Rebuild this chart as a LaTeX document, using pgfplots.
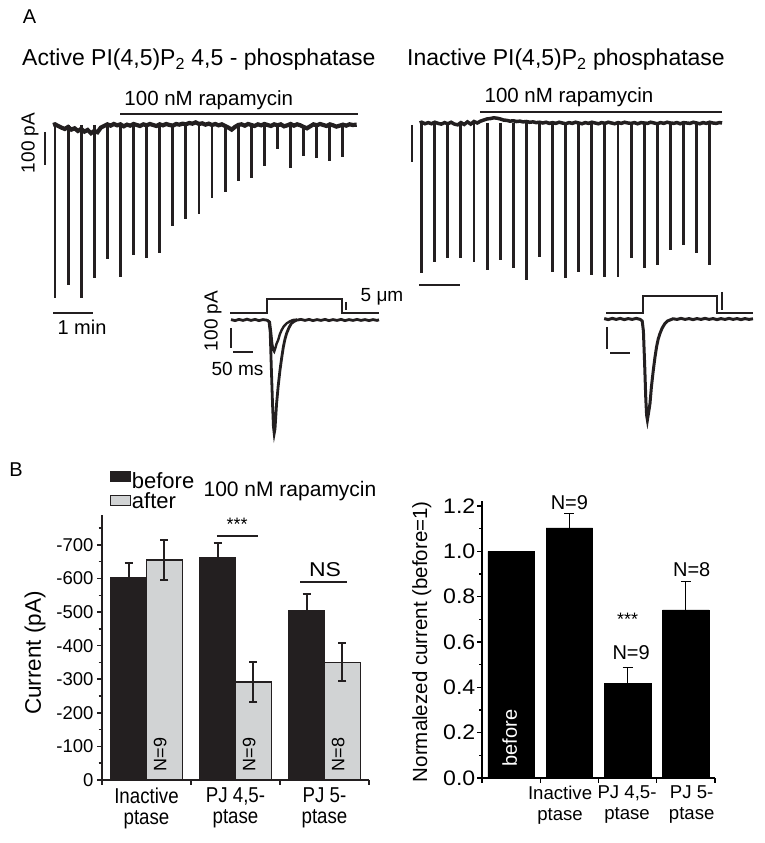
\documentclass[border=0pt]{standalone}
\usepackage{fontspec}
\setmainfont{Liberation Sans}
\usepackage{pgfplots}
\usepackage{pgfplotstable}
\pgfplotsset{compat=1.18}
\definecolor{ink}{HTML}{231F20}
\definecolor{bargray}{HTML}{D1D3D4}
\newcommand{\fs}[1]{\fontsize{#1}{#1}\selectfont}

% ---------- Panel A: active phosphatase, whole-cell current (pA) vs time (s)
\pgfplotstableread{
t I
-3 0
0 2
5 -3
10 -8
15 -12
20 -6
25 -14
30 -10
35 -18
40 -12
45 -20
50 -15
55 -25
60 -18
65 -22
70 -8
75 -3
80 2
85 -2
90 3
95 -1
100 2
105 -4
110 1
115 -2
120 3
125 0
130 -3
135 2
140 -1
145 3
150 0
155 -3
160 2
165 -1
170 3
175 0
180 -2
185 3
190 1
195 4
200 2
205 6
210 4
215 8
220 3
225 5
230 1
235 4
240 0
245 3
250 -1
255 2
260 -3
265 -8
270 -14
275 -6
280 0
285 2
290 -2
295 3
300 0
305 -3
310 2
315 -1
320 3
325 0
330 -3
335 2
340 -1
345 2
350 -4
355 -1
360 3
365 -2
370 2
375 -1
380 -6
385 -10
390 -4
395 2
400 -1
405 3
410 0
415 -3
420 2
425 -1
430 -5
435 -2
440 1
445 -2
450 2
455 0
461 1
}\baseleft
\pgfplotstableread{
t A
0 -523
20 -485
40 -525
60 -463
80 -406
100 -462
120 -394
140 -402
160 -387
180 -306
200 -286
220 -270
240 -220
260 -204
280 -170
300 -160
320 -124
340 -73
360 -131
380 -93
400 -101
420 -109
440 -96
}\spikesleft

% ---------- Panel A: inactive phosphatase
\pgfplotstableread{
t I
-3 0
0 2
5 -2
10 1
15 -2
20 2
25 -1
30 -3
35 1
40 -2
45 2
50 -3
55 -5
60 1
65 -4
70 3
75 -3
80 4
85 0
90 5
95 8
100 11
105 12
110 14
115 13
120 11
125 8
130 7
135 5
140 6
145 4
150 5
155 3
160 4
165 2
170 3
175 1
180 2
185 0
190 2
195 -1
200 1
205 -1
210 2
215 0
220 -2
225 1
230 -1
235 2
240 0
245 -2
250 1
255 -1
260 2
265 0
270 -2
275 1
280 -1
285 2
290 0
295 -2
300 1
305 -1
310 2
315 0
320 -1
325 1
330 -2
335 1
340 0
345 -1
350 2
355 0
360 -2
365 1
370 -1
375 2
380 0
385 -1
390 1
395 -2
400 1
405 0
410 -1
415 2
420 0
425 -2
430 1
435 -1
440 2
445 0
450 -1
455 1
459 0
}\baseright
\pgfplotstableread{
t A
0 -405
20 -376
40 -365
60 -365
80 -376
100 -397
120 -370
140 -392
160 -424
180 -362
200 -403
220 -419
240 -403
260 -411
280 -416
300 -416
320 -365
340 -392
360 -384
380 -343
400 -330
420 -351
440 -384
}\spikesright

% ---------- Insets: current (pA) vs time (ms)
\pgfplotstableread{
t I
-5 2
5 -3
15 3
25 -2
35 4
45 -2
55 3
65 -3
75 2
85 -1
90 -8
93 -60
96 -250
99 -430
101 -530
103 -567
105 -545
107 -480
109 -417
113 -330
117.5 -250
122 -185
126 -133
130 -95
134 -67
140 -38
146 -17
152 -8
159 -1
170 3
180 -2
190 3
200 -3
210 2
220 -2
230 3
240 -3
250 2
260 -2
270 3
280 -3
290 2
300 -2
310 3
320 -2
330 2
340 -3
350 2
360 -2
365 1
}\insetLbig
\pgfplotstableread{
t I
85 0
92 -10
95 -60
98 -120
101 -152
103 -158
106 -140
109 -118
113 -100
117 -72
121.7 -50
127 -32
134 -17
142 -7
150 0
160 2
}\insetLsmall
\pgfplotstableread{
t S
-7.5 35
85 35
85 105
272.5 105
272.5 35
365 35
}\stepL
\pgfplotstableread{
t I
-2 2
8 -3
18 3
28 -2
38 3
48 -3
58 2
68 -2
78 3
88 -2
93 -10
96 -60
99 -220
102 -400
104 -480
106 -505
108 -480
110 -455
112.5 -422
116 -340
120.8 -255
125 -190
129 -138
133 -100
137.5 -72
143 -45
150 -22
156 -10
162.5 -5
170 1
180 -2
190 3
200 -2
210 2
220 -3
230 2
240 -2
250 3
260 -2
270 2
280 -3
290 2
300 -2
310 3
320 -2
330 2
340 -3
350 2
360 -2
370 1
}\insetR
\pgfplotstableread{
t S
2.5 30
95 30
95 115
280 115
280 30
370 30
}\stepR

% ---------- Panel B
\pgfplotstableread{
x mean err
0.8 -603 42
1.8 -661 45
2.8 -504 49
}\beforeT
\pgfplotstableread{
x mean err
1.2 -655 59
2.2 -292 60
3.2 -351 56
}\afterT
\pgfplotstableread{
x val err
1 1.000 0
2 1.103 0.065
3 0.419 0.070
4 0.741 0.125
}\normT

\pgfplotsset{trace/.style={scale only axis, hide axis, clip=false}}

\begin{document}
\begin{tikzpicture}
\useasboundingbox (0pt,0pt) rectangle (764pt,843pt);

% ===== Panel A titles
\node[font=\fs{20}] at (29.5pt,826pt) {A};
\node[font=\fs{23}, anchor=west, inner sep=0pt] at (22pt,783pt) {Active PI(4,5)P\textsubscript{2} 4,5 - phosphatase};
\node[font=\fs{23}, anchor=west, inner sep=0pt] at (407pt,783pt) {Inactive PI(4,5)P\textsubscript{2} phosphatase};
\node[font=\fs{19}, rotate=90] at (30pt,700pt) {100 pA};
\node[font=\fs{20}] at (82pt,516pt) {1 min};

% ===== left long trace
\begin{axis}[trace, at={(51.7pt,731.2pt)}, anchor=north west, width=307.6pt, height=198pt,
  xmin=-5, xmax=465, ymin=-560, ymax=40]
\addplot[ink, line width=4.2pt] table[x=t,y=I]{\baseleft};
\addplot[ink, line width=2.9pt, ycomb] table[x=t,y=A]{\spikesleft};
\draw[ink, line width=2.5pt] (axis cs:100,33) -- (axis cs:463,33);
\node[font=\fs{20.5}] at (axis cs:235,76) {100 nM rapamycin};
\draw[ink, line width=1.5pt] (axis cs:-15,-21) -- (axis cs:-15,-121);
\draw[ink, line width=1.5pt] (axis cs:-3,-570) -- (axis cs:58,-570);
\end{axis}

% ===== right long trace
\begin{axis}[trace, at={(418.4pt,734.8pt)}, anchor=north west, width=307.6pt, height=185pt,
  xmin=-5, xmax=465, ymin=-460, ymax=40]
\addplot[ink, line width=3.5pt] table[x=t,y=I]{\baseright};
\addplot[ink, line width=2.9pt, ycomb] table[x=t,y=A]{\spikesright};
\draw[ink, line width=2.5pt] (axis cs:89,30) -- (axis cs:459,30);
\node[font=\fs{20.5}] at (axis cs:225,70) {100 nM rapamycin};
\draw[ink, line width=1.5pt] (axis cs:-15,-5) -- (axis cs:-15,-105);
\draw[ink, line width=1.5pt] (axis cs:-4,-438) -- (axis cs:58.5,-438);
\end{axis}

% ===== left inset
\node[font=\fs{19}, rotate=90] at (213pt,522pt) {100 pA};
\node[font=\fs{19}] at (237.5pt,474pt) {50 ms};
\node[font=\fs{19}] at (382pt,546pt) {5 μm};
\begin{axis}[trace, at={(229pt,547pt)}, anchor=north west, width=152pt, height=144pt,
  xmin=-10, xmax=370, ymin=-600, ymax=120]
\addplot[ink, line width=1.8pt] table[x=t,y=S]{\stepL};
\addplot[ink, line width=2.8pt] table[x=t,y=I]{\insetLbig};
\addplot[ink, line width=2.4pt] table[x=t,y=I]{\insetLsmall};
\draw[ink, line width=1.2pt] (axis cs:282.5,90) -- (axis cs:282.5,50);
\draw[ink, line width=1.5pt] (axis cs:-5,-40) -- (axis cs:-5,-140);
\draw[ink, line width=1.5pt] (axis cs:0,-160) -- (axis cs:50,-160);
\end{axis}

% ===== right inset
\begin{axis}[trace, at={(601pt,552pt)}, anchor=north west, width=152pt, height=148pt,
  xmin=-10, xmax=370, ymin=-600, ymax=140]
\addplot[ink, line width=1.8pt] table[x=t,y=S]{\stepR};
\addplot[ink, line width=3pt] table[x=t,y=I]{\insetR};
\draw[ink, line width=1.2pt] (axis cs:292.5,135) -- (axis cs:292.5,45);
\draw[ink, line width=1.5pt] (axis cs:5,-40) -- (axis cs:5,-150);
\draw[ink, line width=1.5pt] (axis cs:12.5,-170) -- (axis cs:62.5,-170);
\end{axis}

% ===== Panel B
\node[font=\fs{20}] at (16pt,373pt) {B};
\node[font=\fs{21}] at (290pt,351.5pt) {100 nM rapamycin};

\begin{axis}[at={(102pt,63pt)}, anchor=south west, scale only axis, width=267pt, height=265pt,
  xmin=0.5, xmax=3.5, ymin=0, ymax=789,
  axis lines*=left, axis line style={line width=2pt, ink},
  tick align=outside, tick style={ink, line width=1.5pt},
  major tick length=5pt, minor tick length=3.5pt,
  xtick={0.5,1.5,2.5,3.5}, xticklabels={},
  extra x ticks={1,2,3},
  extra x tick labels={{Inactive\\ptase},{PJ 4,5-\\ptase},{PJ 5-\\ptase}},
  extra x tick style={major tick length=0pt},
  xticklabel style={align=center, font=\fontsize{21.5}{21}\selectfont, xscale=0.87, yshift=-4.5pt},
  ytick={0,100,200,300,400,500,600,700},
  yticklabels={0,-100,-200,-300,-400,-500,-600,-700},
  minor ytick={50,150,250,350,450,550,650,750},
  yticklabel style={font=\fs{18.5}},
  ylabel={Current (pA)},
  ylabel style={at={(axis description cs:-0.251,0.479)}, anchor=center, font=\fs{22.5}},
  legend cell align=left,
  legend style={at={(axis description cs:0.03,1.168)}, anchor=north west, draw=none, fill=none,
    font=\fs{22}, inner sep=0pt, row sep=1.5pt, nodes={inner sep=0.5pt}},
  clip=false]
\addplot[ybar, bar width=0.4, bar shift=0pt, fill=ink, draw=ink, line width=1.2pt,
  legend image code/.code={\draw[fill=ink,draw=ink,line width=1.2pt] (0pt,0pt) rectangle (20pt,10pt);},
  error bars/.cd, y dir=both, y explicit,
  error bar style={line width=1.8pt, ink},
  error mark options={rotate=90, mark size=4pt, line width=1.8pt, ink}]
  table[x=x, y expr=-\thisrow{mean}, y error=err]{\beforeT};
\addlegendentry{before}
\addplot[ybar, bar width=0.4, bar shift=0pt, fill=bargray, draw=ink, line width=1.2pt,
  legend image code/.code={\draw[fill=bargray,draw=ink,line width=1.2pt] (0pt,-4pt) rectangle (20pt,6pt);},
  error bars/.cd, y dir=both, y explicit,
  error bar style={line width=1.8pt, ink},
  error mark options={rotate=90, mark size=4pt, line width=1.8pt, ink}]
  table[x=x, y expr=-\thisrow{mean}, y error=err]{\afterT};
\addlegendentry{after}
\node[rotate=90, anchor=base west, font=\fs{18}] at (axis cs:1.222,15) {N=9};
\node[rotate=90, anchor=base west, font=\fs{18}] at (axis cs:2.222,15) {N=9};
\node[rotate=90, anchor=base west, font=\fs{18}] at (axis cs:3.222,15) {N=8};
\draw[ink, line width=1.5pt] (axis cs:1.792,726) -- (axis cs:2.253,726);
\node[font=\fs{18}] at (axis cs:2.017,762) {***};
\draw[ink, line width=1.5pt] (axis cs:2.725,589) -- (axis cs:3.253,589);
\node[font=\fs{20}, xscale=1.15] at (axis cs:3.006,625) {NS};
\end{axis}

\begin{axis}[at={(482pt,65pt)}, anchor=south west, scale only axis, width=233pt, height=276.6pt,
  xmin=0.5, xmax=4.5, ymin=0, ymax=1.22,
  axis lines*=left, axis line style={line width=1.5pt, black},
  tick align=outside, tick style={black, line width=1.2pt},
  major tick length=5pt, minor tick length=3pt,
  xtick={0.5,1.5,2.5,3.5,4.5}, xticklabels={},
  extra x ticks={1.84,2.99,4.1},
  extra x tick labels={{Inactive\\ptase},{PJ 4,5-\\ptase},{PJ 5-\\ptase}},
  extra x tick style={major tick length=0pt},
  xticklabel style={align=center, font=\fontsize{18.6}{21}\selectfont, yshift=-4pt},
  ytick={0,0.2,0.4,0.6,0.8,1.0,1.2},
  yticklabels={0.0,0.2,0.4,0.6,0.8,1.0,1.2},
  minor ytick={0.1,0.3,0.5,0.7,0.9,1.1},
  yticklabel style={font=\fs{21}, xscale=1.1, xshift=2pt},
  ylabel={Normalezed current (before=1)},
  ylabel style={at={(axis description cs:-0.258,0.493)}, anchor=center, font=\fs{20.5}},
  clip=false]
\addplot[ybar, bar width=0.8, bar shift=0pt, fill=black, draw=black, line width=0.5pt,
  error bars/.cd, y dir=plus, y explicit,
  error bar style={line width=0.9pt, black},
  error mark options={rotate=90, mark size=5pt, line width=0.9pt, black}]
  table[x=x, y=val, y error=err]{\normT};
\node[rotate=90, anchor=base west, font=\fs{20}, white] at (axis cs:1.10,0.035) {before};
\node[font=\fs{20}] at (axis cs:2.0,1.213) {N=9};
\node[font=\fs{20}] at (axis cs:3.06,0.551) {N=9};
\node[font=\fs{20}] at (axis cs:4.1,0.917) {N=8};
\node[font=\fs{18}] at (axis cs:3.0,0.70) {***};
\end{axis}
\end{tikzpicture}
\end{document}
